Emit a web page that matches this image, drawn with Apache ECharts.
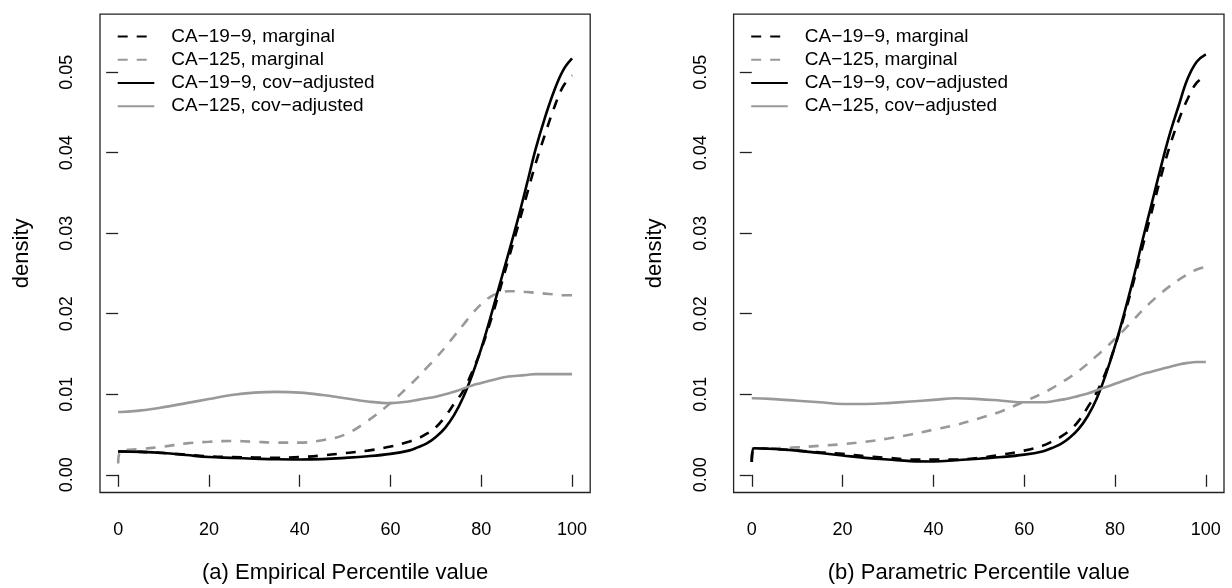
<!DOCTYPE html>
<html>
<head>
<meta charset="utf-8">
<script src="https://cdn.jsdelivr.net/npm/echarts@6/dist/echarts.min.js"></script>
<style>
  html, body { margin: 0; padding: 0; background: #fff; }
  #chart { width: 1232px; height: 588px; }
</style>
</head>
<body>
<div id="chart"></div>
<script>
// percentile grid shared by all curves
const xs = [0, 0.5, 5, 10, 15, 20, 25, 30, 35, 40, 45, 50, 55, 60, 64, 66, 68, 70, 72, 74, 76, 78, 80, 82, 84, 86, 88, 90, 92, 94, 96, 98, 100];

// (a) empirical
const aCa199Marg = [0.0029, 0.0029, 0.00285, 0.0027, 0.0025, 0.0023, 0.0022, 0.00215, 0.0021, 0.0022, 0.0024, 0.0027, 0.0030, 0.0035, 0.0041, 0.0045, 0.0051, 0.0059, 0.0072, 0.0088, 0.0104, 0.0128, 0.0156, 0.0190, 0.0228, 0.0268, 0.0307, 0.0347, 0.0387, 0.0422, 0.0455, 0.0482, 0.0496];
const aCa125Marg = [0.0014, 0.0029, 0.0032, 0.0035, 0.0039, 0.0041, 0.0042, 0.0041, 0.0040, 0.0040, 0.0043, 0.0050, 0.0067, 0.0089, 0.0110, 0.0121, 0.0133, 0.0145, 0.0158, 0.0172, 0.0186, 0.0200, 0.0212, 0.0221, 0.0226, 0.0228, 0.0228, 0.0227, 0.0226, 0.0225, 0.0224, 0.0223, 0.0223];
const aCa199Adj = [0.0029, 0.0029, 0.00285, 0.0027, 0.00245, 0.0022, 0.0021, 0.0020, 0.00192, 0.0019, 0.00195, 0.0021, 0.0023, 0.0026, 0.0030, 0.0034, 0.0039, 0.0047, 0.0058, 0.0074, 0.0096, 0.0124, 0.0157, 0.0195, 0.0235, 0.0275, 0.0316, 0.0360, 0.0405, 0.0443, 0.0476, 0.0502, 0.0517];
const aCa125Adj = [0.0078, 0.0078, 0.0080, 0.0084, 0.0089, 0.0094, 0.0099, 0.0102, 0.0103, 0.0102, 0.0099, 0.0095, 0.0091, 0.0089, 0.0091, 0.0093, 0.0095, 0.0097, 0.0100, 0.0103, 0.0107, 0.0111, 0.0114, 0.0117, 0.0120, 0.0122, 0.0123, 0.0124, 0.0125, 0.0125, 0.0125, 0.0125, 0.0125];

// (b) parametric
const bCa199Marg = [0.0016, 0.0033, 0.0032, 0.0030, 0.0028, 0.0026, 0.0023, 0.0021, 0.0019, 0.0019, 0.0019, 0.0021, 0.0025, 0.0030, 0.0036, 0.0041, 0.0047, 0.0055, 0.0067, 0.0084, 0.0103, 0.0128, 0.0160, 0.0197, 0.0238, 0.0282, 0.0325, 0.0368, 0.0407, 0.0440, 0.0467, 0.0487, 0.0495];
const bCa125Marg = [0.0033, 0.0033, 0.0033, 0.0034, 0.0036, 0.0038, 0.0041, 0.0045, 0.0050, 0.0056, 0.0062, 0.0070, 0.0079, 0.0091, 0.0101, 0.0107, 0.0114, 0.0121, 0.0129, 0.0138, 0.0148, 0.0158, 0.0169, 0.0180, 0.0192, 0.0204, 0.0215, 0.0225, 0.0234, 0.0242, 0.0249, 0.0255, 0.0258];
const bCa199Adj = [0.0016, 0.0033, 0.0032, 0.0030, 0.0027, 0.0024, 0.0021, 0.0019, 0.0017, 0.00165, 0.0018, 0.0020, 0.0022, 0.0025, 0.0029, 0.0033, 0.0038, 0.0046, 0.0057, 0.0073, 0.0095, 0.0125, 0.0160, 0.0200, 0.0243, 0.0290, 0.0335, 0.0380, 0.0422, 0.0458, 0.0492, 0.0513, 0.0522];
const bCa125Adj = [0.0095, 0.0095, 0.0094, 0.0092, 0.0090, 0.0088, 0.0088, 0.0089, 0.0091, 0.0093, 0.0095, 0.0094, 0.0092, 0.0090, 0.0090, 0.0091, 0.0093, 0.0095, 0.0098, 0.0101, 0.0105, 0.0109, 0.0113, 0.0117, 0.0121, 0.0125, 0.0128, 0.0131, 0.0134, 0.0137, 0.0139, 0.0140, 0.0140];

const xTicks = [0, 20, 40, 60, 80, 100];
const yTicks = [0, 0.01, 0.02, 0.03, 0.04, 0.05];
const names = ['CA\u221219\u22129, marginal', 'CA\u2212125, marginal', 'CA\u221219\u22129, cov\u2212adjusted', 'CA\u2212125, cov\u2212adjusted'];
const xTitles = ['(a) Empirical Percentile value', '(b) Parametric Percentile value'];

const FONT = '"Liberation Sans", Arial, Helvetica, sans-serif';
const styles = [
  { color: '#000000', type: [10, 9] },
  { color: '#999999', type: [10, 9] },
  { color: '#000000', type: 'solid' },
  { color: '#999999', type: 'solid' }
];

const panels = [
  [aCa199Marg, aCa125Marg, aCa199Adj, aCa125Adj],
  [bCa199Marg, bCa125Marg, bCa199Adj, bCa125Adj]
];

const chart = echarts.init(document.getElementById('chart'), null, { renderer: 'canvas' });

const grids = [
  { left: 100, top: 14.2, width: 490.2, height: 478.3 },
  { left: 733.6, top: 14.2, width: 490.4, height: 478.3 }
].map(g => Object.assign(g, {
  show: true, borderColor: '#222', borderWidth: 1.3, backgroundColor: 'transparent',
  containLabel: false, outerBoundsMode: 'none'
}));

const xAxes = xTitles.map((t, i) => ({
  type: 'value', gridIndex: i, min: -4, max: 104,
  name: t, nameLocation: 'middle', nameGap: 69.5,
  nameTextStyle: { fontSize: 22, color: '#000', fontFamily: FONT },
  splitLine: { show: false },
  axisLine: { show: false },
  axisTick: { show: true, inside: false, length: 12, customValues: xTicks, lineStyle: { color: '#222', width: 1.3 } },
  axisLabel: { customValues: xTicks, margin: 28.5, fontSize: 18, color: '#000', fontFamily: FONT }
}));

const yAxes = [0, 1].map(i => ({
  type: 'value', gridIndex: i, min: -0.0022, max: 0.0572,
  name: 'density', nameLocation: 'middle', nameGap: 67.5,
  nameTextStyle: { fontSize: 22, color: '#000', fontFamily: FONT },
  splitLine: { show: false },
  axisLine: { show: false },
  axisTick: { show: true, inside: false, length: 12, customValues: yTicks, lineStyle: { color: '#222', width: 1.3 } },
  axisLabel: { customValues: yTicks, rotate: 90, margin: 24, fontSize: 18, color: '#000', fontFamily: FONT,
    formatter: v => v.toFixed(2) }
}));

const series = [];
panels.forEach((curves, p) => {
  curves.forEach((vals, k) => {
    series.push({
      name: names[k], type: 'line', xAxisIndex: p, yAxisIndex: p,
      data: xs.map((x, j) => [x, vals[j]]),
      symbol: 'none', showSymbol: false, smooth: 0.4,
      lineStyle: { color: styles[k].color, width: 2.6, type: styles[k].type },
      itemStyle: { color: styles[k].color },
      emphasis: { disabled: true }, silent: true, animation: false
    });
  });
});

const legends = [116.7, 750.2].map(left => ({
  data: names, orient: 'vertical', left: left, top: 25, padding: 0,
  itemWidth: 36.6, itemHeight: 10, itemGap: 0,
  itemStyle: { opacity: 0, borderWidth: 0 },
  textStyle: { fontSize: 19, color: '#000', fontFamily: FONT, lineHeight: 23.2, padding: [0, 0, 0, 12] },
  selectedMode: false
}));

chart.setOption({
  backgroundColor: '#fff',
  animation: false,
  grid: grids,
  xAxis: xAxes,
  yAxis: yAxes,
  legend: legends,
  series: series
});
</script>
</body>
</html>
